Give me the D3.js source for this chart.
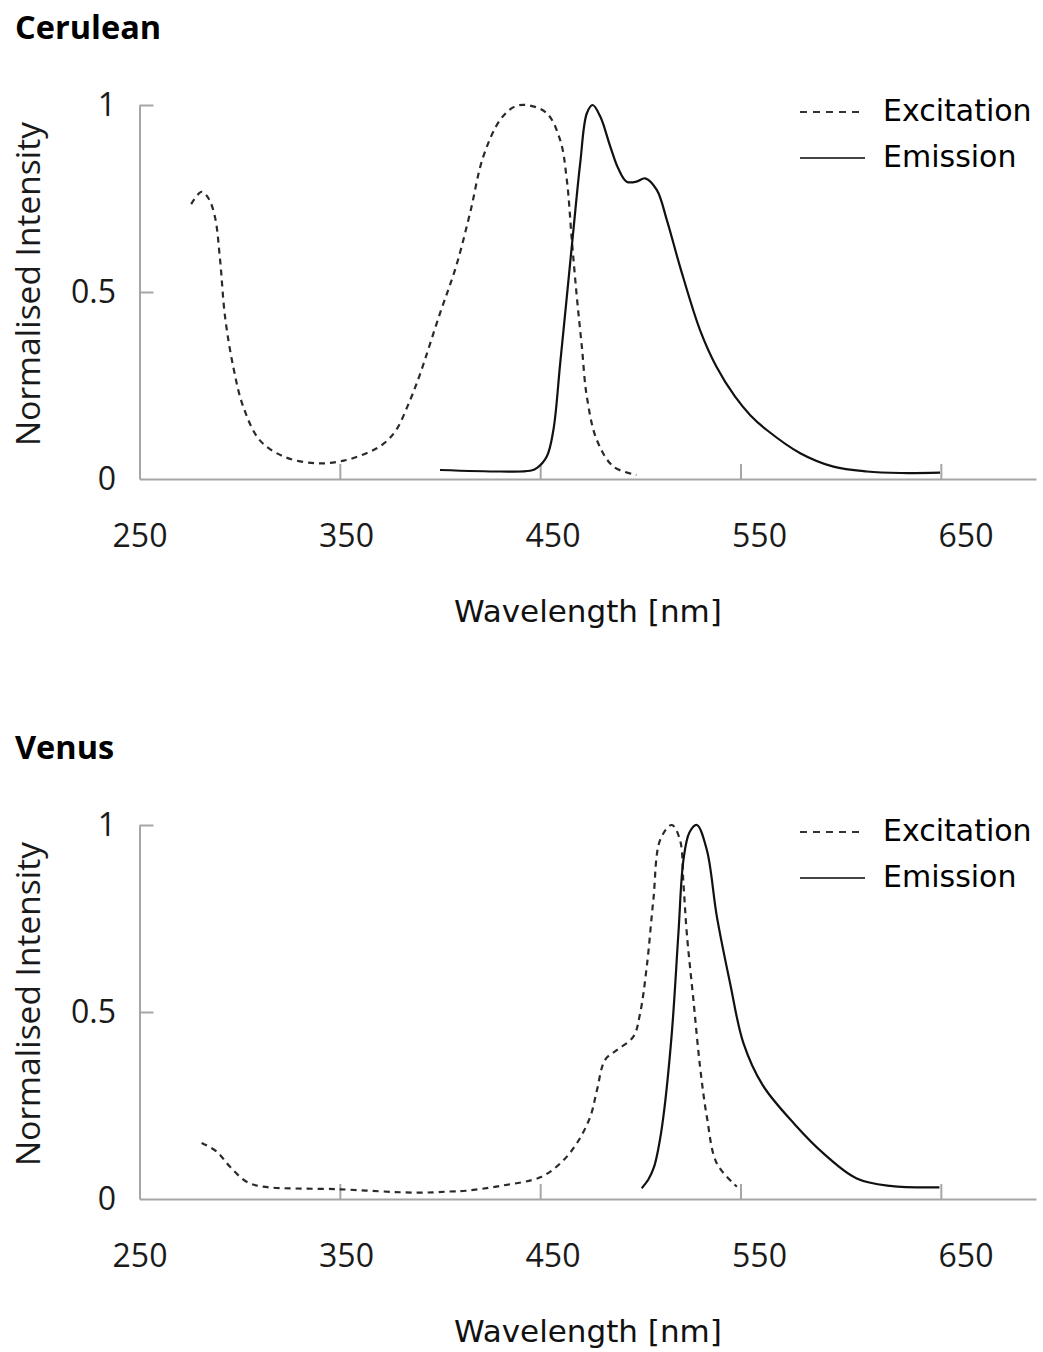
<!DOCTYPE html>
<html>
<head>
<meta charset="utf-8">
<script src="https://cdn.jsdelivr.net/npm/d3@7"></script>
<style>
  body { margin: 0; background: #fff; }
</style>
</head>
<body>
<div id="chart"></div>
<script>
// tick values
var xTickValues = [350, 450, 550, 650];
var xTickLabels = [250, 350, 450, 550, 650];
var yTickValues = [0.5, 1];
var yTickLabels = [0, 0.5, 1];
var seriesNames = ["Excitation", "Emission"];

// Cerulean
var ceruleanExWl  = [275.8, 281, 284.5, 287.7, 290.2, 292.7, 296.8, 301.8, 310, 322, 338, 352, 365, 372, 378, 385, 390, 400, 408, 415, 421.6, 430, 437, 443.3, 453.3, 460, 463.3, 465.8, 468.3, 470.8, 473.3, 478.3, 486.6, 498];
var ceruleanExVal = [0.735, 0.768, 0.75, 0.70, 0.587, 0.434, 0.30, 0.193, 0.104, 0.06, 0.042, 0.049, 0.073, 0.095, 0.13, 0.21, 0.28, 0.443, 0.568, 0.711, 0.862, 0.96, 0.995, 1.0, 0.978, 0.906, 0.80, 0.639, 0.487, 0.354, 0.22, 0.104, 0.033, 0.011];
var ceruleanEmWl  = [400, 430, 445, 448.3, 453.3, 456.6, 460, 463.3, 466.6, 470, 473.3, 476.2, 480, 485, 489, 493.2, 498, 502.4, 508.2, 513.2, 519.8, 529.8, 538, 547.3, 555, 563.1, 579.8, 596.4, 613.1, 630, 649.6];
var ceruleanEmVal = [0.024, 0.02, 0.022, 0.029, 0.06, 0.131, 0.31, 0.487, 0.666, 0.845, 0.978, 1.0, 0.969, 0.889, 0.83, 0.795, 0.795, 0.804, 0.773, 0.693, 0.568, 0.398, 0.30, 0.22, 0.17, 0.131, 0.069, 0.033, 0.02, 0.016, 0.017];

// Venus
var venusExWl  = [281, 288.5, 295.2, 303.5, 311.8, 350, 388, 405, 413, 430, 450, 460, 468.3, 475, 478.3, 482.4, 488.2, 496.5, 499.9, 503.2, 506.5, 509.9, 515.7, 519.8, 521.5, 523.2, 526.5, 529.8, 533.2, 538.2, 548.2];
var venusExVal = [0.15, 0.127, 0.086, 0.046, 0.033, 0.026, 0.017, 0.02, 0.022, 0.035, 0.058, 0.095, 0.149, 0.22, 0.29, 0.372, 0.398, 0.434, 0.497, 0.621, 0.80, 0.96, 1.0, 0.96, 0.844, 0.71, 0.532, 0.354, 0.22, 0.095, 0.033];
var venusEmWl  = [500.7, 504, 506.8, 509, 511.5, 515.7, 519, 521.5, 524.5, 528.2, 533.2, 538.2, 544.8, 551.5, 561, 577, 591.4, 608, 624.7, 649.3];
var venusEmVal = [0.029, 0.052, 0.085, 0.135, 0.22, 0.443, 0.71, 0.906, 0.98, 1.0, 0.933, 0.755, 0.577, 0.416, 0.305, 0.2, 0.122, 0.055, 0.035, 0.031];

var width = 1043;
var height = 1352;
var axisColor = "#a6a6a6";

var svg = d3.select("#chart")
    .append("svg")
    .attr("width", width)
    .attr("height", height);

var x = d3.scaleLinear().domain([250, 697.5]).range([139.5, 1036]);
// the tick labels sit on a slightly wider spacing than the ticks
var xLabel = d3.scaleLinear().domain([250, 650]).range([140, 966]);
var y = d3.scaleLinear().domain([0, 1]).range([479, 105]);

function toPoints(wl, val) {
    return wl.map(function(w, i) { return [w, val[i]]; });
}

function drawPanel(top, title, exWl, exVal, emWl, emVal) {
    var g = svg.append("g").attr("transform", "translate(0," + top + ")");

    // titulo
    g.append("text")
        .attr("x", 15)
        .attr("y", 39)
        .style("font-family", "'Open Sans', sans-serif")
        .style("font-weight", "bold")
        .style("font-size", "32.5px")
        .style("fill", "#000")
        .text(title);

    // ejes
    var xAxis = g.append("g")
        .attr("transform", "translate(0," + y(0) + ")")
        .call(d3.axisBottom(x).tickValues(xTickValues).tickSize(-15).tickSizeOuter(0).tickFormat(""));
    var yAxis = g.append("g")
        .attr("transform", "translate(" + x(250) + ",0)")
        .call(d3.axisLeft(y).tickValues(yTickValues).tickSize(-14).tickSizeOuter(0).tickFormat(""));

    [xAxis, yAxis].forEach(function(a) {
        a.select(".domain").attr("stroke", axisColor).attr("stroke-width", 2);
        a.selectAll(".tick line").attr("stroke", axisColor).attr("stroke-width", 2);
    });

    g.selectAll(".xlabel")
        .data(xTickLabels)
        .enter()
        .append("text")
        .attr("class", "xlabel")
        .attr("x", function(d) { return xLabel(d); })
        .attr("y", 547)
        .attr("text-anchor", "middle")
        .style("font-family", "'Open Sans', sans-serif")
        .style("font-size", "32px")
        .style("fill", "#1a1a1a")
        .text(function(d) { return d; });

    g.selectAll(".ylabel")
        .data(yTickLabels)
        .enter()
        .append("text")
        .attr("class", "ylabel")
        .attr("x", 116)
        .attr("y", function(d) { return y(d) + 11; })
        .attr("text-anchor", "end")
        .style("font-family", "'Open Sans', sans-serif")
        .style("font-size", "32px")
        .style("fill", "#1a1a1a")
        .text(function(d) { return d; });

    g.append("text")
        .attr("transform", "translate(40,284) rotate(-90)")
        .attr("text-anchor", "middle")
        .style("font-family", "'Open Sans', sans-serif")
        .style("font-size", "33.5px")
        .style("fill", "#1a1a1a")
        .text("Normalised Intensity");

    g.append("text")
        .attr("x", 588)
        .attr("y", 622)
        .attr("text-anchor", "middle")
        .style("font-family", "'DejaVu Sans', sans-serif")
        .style("font-size", "31px")
        .style("fill", "#111")
        .text("Wavelength [nm]");

    // curvas
    var line = d3.line()
        .x(function(d) { return x(d[0]); })
        .y(function(d) { return y(d[1]); })
        .curve(d3.curveCatmullRom.alpha(0.5));

    g.append("path")
        .datum(toPoints(exWl, exVal))
        .attr("d", line)
        .attr("fill", "none")
        .attr("stroke", "#2a2a2a")
        .attr("stroke-width", 2.2)
        .attr("stroke-dasharray", "6,5");

    g.append("path")
        .datum(toPoints(emWl, emVal))
        .attr("d", line)
        .attr("fill", "none")
        .attr("stroke", "#111")
        .attr("stroke-width", 2.2);

    // leyenda
    var legend = g.selectAll(".legend")
        .data(seriesNames)
        .enter()
        .append("g")
        .attr("class", "legend")
        .attr("transform", function(d, i) { return "translate(0," + (112 + i * 46) + ")"; });

    legend.append("line")
        .attr("x1", 800)
        .attr("x2", 865)
        .attr("stroke", function(d, i) { return i === 0 ? "#333" : "#444"; })
        .attr("stroke-width", 2)
        .attr("stroke-dasharray", function(d, i) { return i === 0 ? "7,6" : null; });

    legend.append("text")
        .attr("x", 883)
        .attr("y", 9)
        .style("font-family", "'DejaVu Sans', sans-serif")
        .style("font-size", "30px")
        .style("fill", "#000")
        .text(function(d) { return d; });
}

drawPanel(0, "Cerulean", ceruleanExWl, ceruleanExVal, ceruleanEmWl, ceruleanEmVal);
drawPanel(720, "Venus", venusExWl, venusExVal, venusEmWl, venusEmVal);
</script>
</body>
</html>
